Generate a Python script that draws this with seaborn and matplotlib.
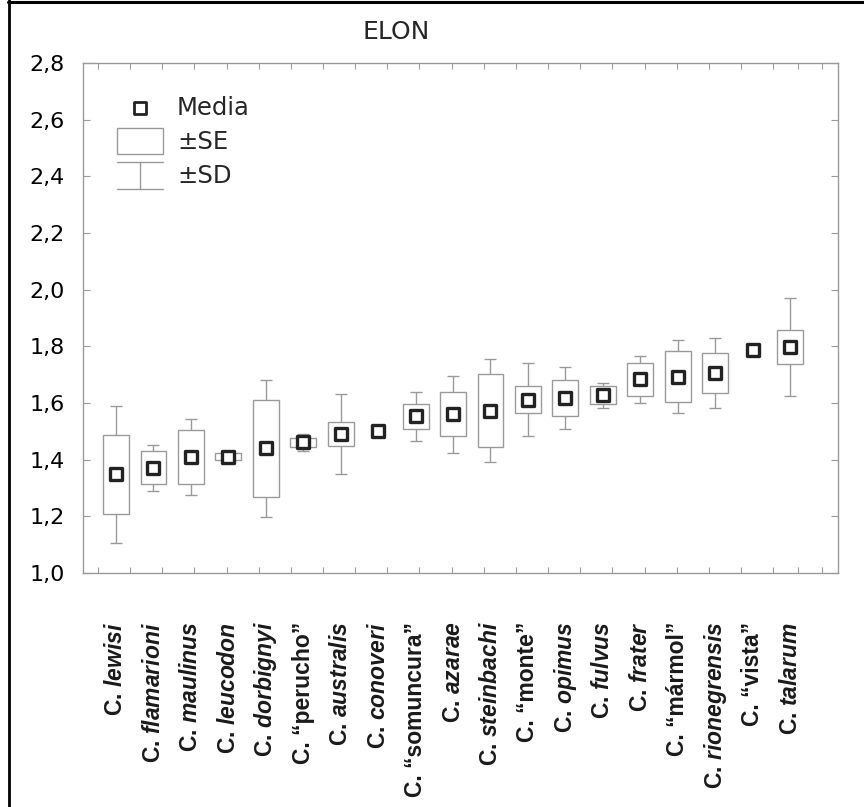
import numpy as np
import pandas as pd
import matplotlib
matplotlib.use('Agg')
import matplotlib.pyplot as plt
from matplotlib.lines import Line2D
from matplotlib.patches import Rectangle
import seaborn as sns

# species (genus abbreviated), quoted forms are undescribed populations
species = ['lewisi', 'flamarioni', 'maulinus', 'leucodon', 'dorbignyi', '“perucho”',
           'australis', 'conoveri', '“somuncura”', 'azarae', 'steinbachi', '“monte”',
           'opimus', 'fulvus', 'frater', '“mármol”', 'rionegrensis', '“vista”', 'talarum']
media = [1.348, 1.372, 1.409, 1.410, 1.440, 1.461, 1.491, 1.500, 1.553, 1.560,
         1.573, 1.612, 1.617, 1.627, 1.684, 1.692, 1.706, 1.787, 1.798]
se = [0.140, 0.058, 0.096, 0.012, 0.172, 0.016, 0.043, 0.000, 0.044, 0.078,
      0.128, 0.048, 0.063, 0.032, 0.058, 0.090, 0.072, 0.000, 0.060]
sd = [0.243, 0.081, 0.135, 0.018, 0.242, 0.030, 0.141, 0.000, 0.087, 0.135,
      0.183, 0.128, 0.110, 0.045, 0.083, 0.129, 0.125, 0.000, 0.172]

df = pd.DataFrame({'species': species, 'media': media, 'se': se, 'sd': sd})
df['pos'] = np.arange(len(df))
df['lo'] = df['media'] - df['se']

sns.set_theme(style='ticks')
plt.rcParams['font.family'] = ['DejaVu Sans']
plt.rcParams['mathtext.fontset'] = 'custom'
plt.rcParams['mathtext.rm'] = 'Liberation Sans:bold'
plt.rcParams['mathtext.bf'] = 'Liberation Sans:bold'
plt.rcParams['mathtext.it'] = 'Liberation Sans:bold:italic'
plt.rcParams['mathtext.bfit'] = 'Liberation Sans:bold:italic'

grey = '#9a9a9a'
dark = '#222222'

fig = plt.figure(figsize=(8.64, 8.07), dpi=100)
ax = fig.add_axes([83 / 864, 1 - 573 / 807, 755 / 864, 510 / 807])

# ±SD whiskers (only where there is spread)
w = df[df['sd'] > 0]
ax.errorbar(w['pos'], w['media'], yerr=w['sd'], fmt='none', ecolor=grey,
            elinewidth=1.0, capsize=4.4, capthick=1.0, zorder=1)
# ±SE boxes
b = df[df['se'] > 0]
ax.bar(b['pos'], 2 * b['se'], bottom=b['lo'], width=0.69, facecolor='white',
       edgecolor=grey, linewidth=1.0, zorder=2)
# means
sns.scatterplot(data=df, x='species', y='media', marker='s', s=82,
                facecolor='white', edgecolor=dark, linewidth=2.4,
                zorder=5, ax=ax, legend=False)

ax.set_xlim(-0.881, 19.28)
ax.set_ylim(1.0, 2.8)
yt = np.arange(1.0, 2.81, 0.2)
ax.set_yticks(yt)
ax.set_yticklabels([f'{v:.1f}'.replace('.', ',') for v in yt], fontsize=16, color='black')

labels = []
for name in species:
    if name.startswith('“'):
        labels.append('C. ' + name)
    else:
        labels.append('C. $\\mathbfit{' + name + '}$')
ax.set_xticks(df['pos'])
ax.set_xticklabels(labels, rotation=90, fontsize=16.5, fontweight='bold',
                   color='#1a1a1a', family='Liberation Sans')
ax.tick_params(axis='x', which='major', length=0, pad=35)

# Statistica-style minor ticks on x (not aligned with categories)
tick_px = list(np.linspace(98, 773, 22)) + [798, 822]
ax.set_xticks([(p - 116) / 37.44 for p in tick_px], minor=True)
ax.tick_params(axis='x', which='minor', direction='in', length=4.5, width=0.8,
               color=grey, top=True, bottom=True)
ax.tick_params(axis='y', direction='in', length=5, width=0.8, color=grey,
               left=True, right=True, pad=13)
for sp in ax.spines.values():
    sp.set_color(grey)
    sp.set_linewidth(1.0)
ax.set_xlabel('')
ax.set_ylabel('')

# legend drawn by hand
tr = ax.transAxes
ax.scatter([0.0755], [0.912], marker='s', s=82, facecolor='white', edgecolor=dark,
           linewidth=2.0, transform=tr, zorder=6, clip_on=False)
ax.add_patch(Rectangle((0.045, 0.8216), 0.061, 0.0509, transform=tr,
                       facecolor='white', edgecolor=grey, linewidth=1.0))
ax.add_line(Line2D([0.0755, 0.0755], [0.753, 0.806], transform=tr, color=grey, lw=1.0))
ax.add_line(Line2D([0.045, 0.106], [0.806, 0.806], transform=tr, color=grey, lw=1.0))
ax.add_line(Line2D([0.045, 0.106], [0.753, 0.753], transform=tr, color=grey, lw=1.0))
for txt, yy in [('Media', 0.912), ('±SE', 0.845), ('±SD', 0.778)]:
    ax.text(0.1245, yy, txt, transform=tr, fontsize=17.5, va='center', ha='left')

fig.text(396 / 864, 1 - 32 / 807, 'ELON', fontsize=18, ha='center', va='center')

# frame lines at left and top of the figure
fig.add_artist(Line2D([9 / 864, 9 / 864], [0, 1], transform=fig.transFigure,
                      color='black', lw=2.0))
fig.add_artist(Line2D([8 / 864, 1], [1 - 1.5 / 807, 1 - 1.5 / 807],
                      transform=fig.transFigure, color='black', lw=2.2))

fig.savefig('out.png', dpi=100, facecolor='white')
